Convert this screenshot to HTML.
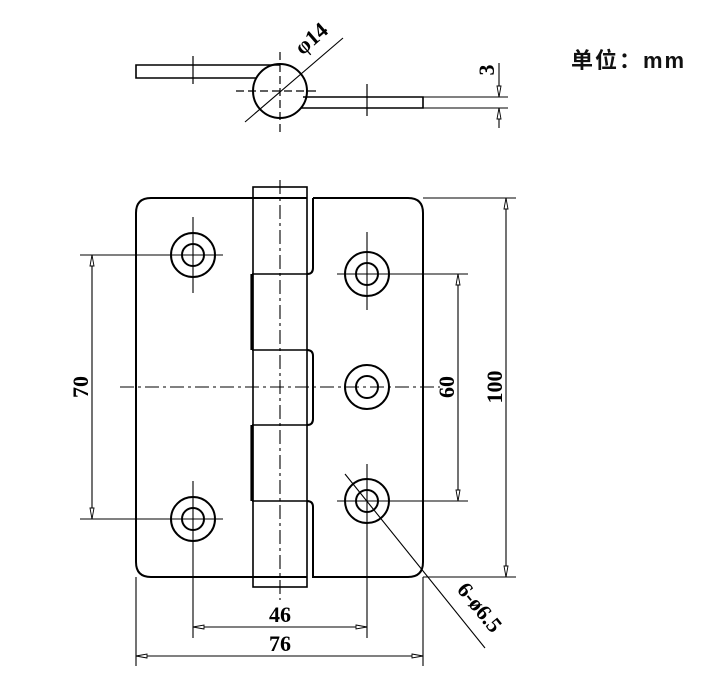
<!DOCTYPE html>
<html><head><meta charset="utf-8"><style>html,body{margin:0;padding:0;background:#fff}svg{display:block}</style></head>
<body>
<svg width="722" height="691" viewBox="0 0 722 691" xmlns="http://www.w3.org/2000/svg">
<defs>
<marker id="a" viewBox="0 0 12 6" refX="11.5" refY="3" markerWidth="12" markerHeight="6" markerUnits="userSpaceOnUse" orient="auto-start-reverse"><path d="M0.5,1 L11.5,3 L0.5,5 Z" fill="#fff" stroke="#000" stroke-width="0.9"/></marker>
</defs>
<g fill="none" stroke="#000" stroke-width="1.6">
<!-- top view -->
<path d="M280,65 L136,65 L136,78 L256,78"/>
<circle cx="280" cy="91" r="27" stroke-width="2"/>
<path d="M303,97 L423,97 L423,108 L301,108"/>
<line x1="280" y1="52" x2="280" y2="132" stroke-dasharray="8,4" stroke-width="1.2"/>
<line x1="236" y1="91" x2="320" y2="91" stroke-dasharray="8,4" stroke-width="1.2"/>
<line x1="193" y1="56" x2="193" y2="84" stroke-width="1.2"/>
<line x1="367" y1="84" x2="367" y2="116" stroke-width="1.2"/>
<line x1="423" y1="97" x2="508" y2="97" stroke-width="1.1"/>
<line x1="423" y1="108" x2="508" y2="108" stroke-width="1.1"/>
<line x1="499" y1="63" x2="499" y2="97" stroke-width="1.1" marker-end="url(#a)"/>
<line x1="499" y1="128" x2="499" y2="108" stroke-width="1.1" marker-end="url(#a)"/>
<line x1="245" y1="122" x2="343" y2="38" stroke-width="1.1"/>
<!-- left plate -->
<path d="M307,198 L151,198 Q136,198 136,213 L136,562 Q136,577 151,577 L307,577" stroke-width="2"/>
<!-- knuckle -->
<rect x="253" y="187" width="54" height="400"/>
<path d="M252,274 L252,350 M252,425 L252,501" stroke-width="3.2"/>
<path d="M252,274 L307,274 M252,350 L307,350 M252,425 L307,425 M252,501 L307,501"/>
<!-- right plate -->
<path d="M313,198 L408,198 Q423,198 423,213 L423,562 Q423,577 408,577 L313,577 L313,507 Q313,501 307,501 M307,425 Q313,425 313,419 L313,356 Q313,350 307,350 M307,274 Q313,274 313,268 L313,198" stroke-width="2"/>
<!-- holes -->
<g stroke-width="2">
<circle cx="193" cy="255" r="22"/><circle cx="193" cy="255" r="11"/>
<circle cx="193" cy="519" r="22"/><circle cx="193" cy="519" r="11"/>
<circle cx="367" cy="274" r="22"/><circle cx="367" cy="274" r="11"/>
<circle cx="367" cy="387" r="22"/><circle cx="367" cy="387" r="11"/>
<circle cx="367" cy="501" r="22"/><circle cx="367" cy="501" r="11"/>
</g>
<g stroke-width="1.1">
<line x1="193" y1="217" x2="193" y2="293"/>
<line x1="193" y1="481" x2="193" y2="638"/>
<line x1="367" y1="232" x2="367" y2="310"/>
<line x1="367" y1="464" x2="367" y2="638"/>
<line x1="80" y1="255" x2="223" y2="255"/>
<line x1="80" y1="519" x2="223" y2="519"/>
<line x1="337" y1="274" x2="468" y2="274"/>
<line x1="337" y1="501" x2="468" y2="501"/>
<line x1="423" y1="198" x2="516" y2="198"/>
<line x1="423" y1="577" x2="516" y2="577"/>
<line x1="280" y1="180" x2="280" y2="600" stroke-dasharray="14,4,3,4"/>
<line x1="120" y1="387" x2="440" y2="387" stroke-dasharray="14,4,3,4"/>
<line x1="136" y1="577" x2="136" y2="666"/>
<line x1="423" y1="577" x2="423" y2="666"/>
<line x1="345" y1="474" x2="485" y2="648"/>
<!-- dims -->
<line x1="92" y1="387" x2="92" y2="255" marker-end="url(#a)"/>
<line x1="92" y1="387" x2="92" y2="519" marker-end="url(#a)"/>
<line x1="458" y1="387" x2="458" y2="274" marker-end="url(#a)"/>
<line x1="458" y1="387" x2="458" y2="501" marker-end="url(#a)"/>
<line x1="506" y1="387" x2="506" y2="198" marker-end="url(#a)"/>
<line x1="506" y1="387" x2="506" y2="577" marker-end="url(#a)"/>
<line x1="280" y1="627" x2="193" y2="627" marker-end="url(#a)"/>
<line x1="280" y1="627" x2="367" y2="627" marker-end="url(#a)"/>
<line x1="280" y1="656" x2="136" y2="656" marker-end="url(#a)"/>
<line x1="280" y1="656" x2="423" y2="656" marker-end="url(#a)"/>
</g>
</g>
<g font-family="Liberation Serif, serif" font-weight="bold" font-size="22" fill="#000" text-anchor="middle">
<text x="280" y="622">46</text>
<text x="280" y="651">76</text>
<text transform="translate(88,387) rotate(-90)">70</text>
<text transform="translate(454,387) rotate(-90)">60</text>
<text transform="translate(502,387) rotate(-90)">100</text>
<text transform="translate(494,70) rotate(-90)">3</text>
<text transform="translate(316,44) rotate(-41)">φ14</text>
<text transform="translate(474,612) rotate(51)">6-ø6.5</text>
</g>
<text x="571" y="68" font-family="Liberation Sans, Noto Sans CJK SC, sans-serif" font-weight="bold" font-size="22" letter-spacing="2" fill="#111">单位：mm</text>
</svg>
</body></html>
